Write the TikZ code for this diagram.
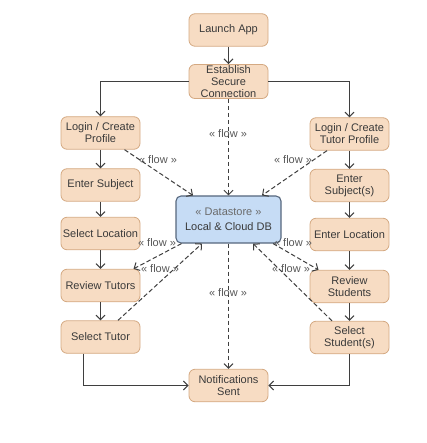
\documentclass[tikz,border=0pt]{standalone}
\usepackage{fontspec}
\setmainfont{Liberation Sans}
\usepackage{tikz}
\usetikzlibrary{arrows.meta}
\definecolor{peach}{HTML}{F7DCC3}
\definecolor{peachline}{HTML}{D4A982}
\definecolor{dsfill}{HTML}{C6DCF5}
\definecolor{dsline}{HTML}{56677D}
\definecolor{ink}{HTML}{3A3A3A}
\definecolor{wire}{HTML}{3F3F3F}
\begin{document}
\begin{tikzpicture}[x=1pt, y=-1pt,
    every node/.style={font=\fontsize{11}{12}\selectfont, text=ink},
    proc/.style={rectangle, rounded corners=6pt, draw=peachline, line width=0.8pt, fill=peach, minimum width=79pt, minimum height=32.5pt, inner sep=1pt, align=center},
    store/.style={rectangle, rounded corners=5pt, draw=dsline, line width=1.1pt, fill=dsfill, minimum width=105pt, minimum height=47pt, inner sep=1pt, align=center},
    ctl/.style={draw=wire, line width=1pt, -{Straight Barb[length=4.5pt,width=9pt]}},
    flowline/.style={ctl, dashed, dash pattern=on 4.5pt off 2.5pt},
    flowlbl/.style={text=ink!85}]
            \useasboundingbox (0, 0) rectangle (426, 443);
            \node[proc] at (228.5, 30)    (launch) {Launch App};
            \node[proc] at (228.5, 81.5)  (est)    {Establish\\Secure\\Connection};
            \node[proc] at (100.5, 133)   (lprof)  {Login / Create\\Profile};
            \node[proc] at (100.5, 185)   (lsubj)  {Enter Subject};
            \node[proc] at (100.5, 233.5) (lloc)   {Select Location};
            \node[proc] at (100.5, 285.5) (lrev)   {Review Tutors};
            \node[proc] at (100.5, 337)   (lsel)   {Select Tutor};
            \node[proc] at (349.5, 134)   (rprof)  {Login / Create\\Tutor Profile};
            \node[proc] at (349.5, 185.5) (rsubj)  {Enter\\Subject(s)};
            \node[proc] at (349.5, 234.5) (rloc)   {Enter Location};
            \node[proc] at (349.5, 286.5) (rrev)   {Review\\Students};
            \node[proc] at (349.5, 337.5) (rsel)   {Select\\Student(s)};
            \node[proc] at (228.5, 385.5) (notif)  {Notifications\\Sent};
            \node[store] at (228.5, 219.5) (ds) {{\color{ink!75}\guillemotleft{} Datastore \guillemotright}\\[3pt]Local \& Cloud DB};

            % control flow
            \draw[ctl] (launch) -- (est);
            \draw[ctl] (est.west) -| (lprof.north);
            \draw[ctl] (est.east) -| (rprof.north);
            \draw[ctl] (lprof) -- (lsubj);
            \draw[ctl] (lsubj) -- (lloc);
            \draw[ctl] (lloc) -- (lrev);
            \draw[ctl] (lrev) -- (lsel);
            \draw[ctl] (rprof) -- (rsubj);
            \draw[ctl] (rsubj) -- (rloc);
            \draw[ctl] (rloc) -- (rrev);
            \draw[ctl] (rrev) -- (rsel);
            \draw[ctl] ([xshift=-17.5pt]lsel.south) |- (notif.west);
            \draw[ctl] (rsel.south) |- (notif.east);

            % object flow
            \draw[flowline] (est) -- (ds);
            \draw[flowline] (ds) -- (notif);
            \draw[flowline] ([xshift=24pt]lprof.south) -- ([xshift=-35.5pt]ds.north);
            \draw[flowline] ([xshift=-22.5pt]rprof.south) -- ([xshift=33.5pt]ds.north);
            \draw[flowline] ([xshift=-47pt]ds.south) -- ([xshift=33pt]lrev.north);
            \draw[flowline] ([xshift=17.5pt]lsel.north) -- ([xshift=-26.5pt]ds.south);
            \draw[flowline] ([xshift=44.5pt]ds.south) -- ([xshift=-31pt]rrev.north);
            \draw[flowline] ([xshift=-17.5pt]rsel.north) -- ([xshift=24.5pt]ds.south);
            \node[flowlbl] at (228, 134) (f1) {\guillemotleft{} flow \guillemotright};
            \node[flowlbl] at (158, 160) (f2) {\guillemotleft{} flow \guillemotright};
            \node[flowlbl] at (293, 160) (f3) {\guillemotleft{} flow \guillemotright};
            \node[flowlbl] at (157, 243) (f4) {\guillemotleft{} flow \guillemotright};
            \node[flowlbl] at (160, 269) (f5) {\guillemotleft{} flow \guillemotright};
            \node[flowlbl] at (293, 243) (f6) {\guillemotleft{} flow \guillemotright};
            \node[flowlbl] at (291, 269) (f7) {\guillemotleft{} flow \guillemotright};
            \node[flowlbl] at (228, 293) (f8) {\guillemotleft{} flow \guillemotright};
        \end{tikzpicture}
\end{document}
